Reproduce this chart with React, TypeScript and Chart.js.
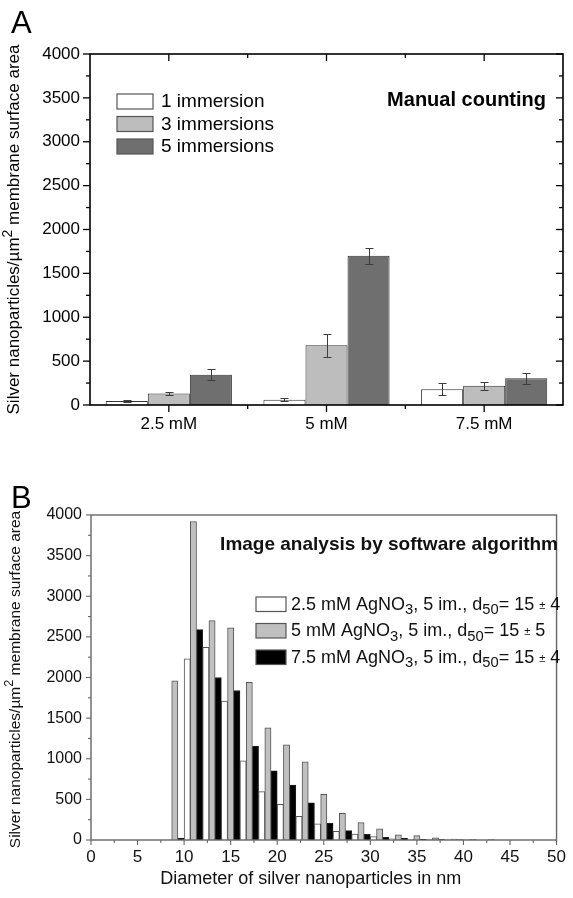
import React, { useEffect, useRef } from "react";
import { Chart, registerables } from "chart.js";

Chart.register(...registerables);

const FONT = '"Liberation Sans", Arial, Helvetica, sans-serif';

// ---------------- Panel A : manual counting ----------------
const concentrationLabels = ["2.5 mM", "5 mM", "7.5 mM"];
const immersionNames = ["1 immersion", "3 immersions", "5 immersions"];
const oneImmersion = [45, 60, 180];
const threeImmersions = [130, 680, 220];
const fiveImmersions = [345, 1700, 305];
const oneImmersionErr = [10, 20, 70];
const threeImmersionsErr = [20, 130, 45];
const fiveImmersionsErr = [65, 90, 60];
const yTicksA = [0, 500, 1000, 1500, 2000, 2500, 3000, 3500, 4000];
const panelATitle = "Manual counting";
const panelALetter = "A";

// ---------------- Panel B : image analysis ----------------
const diameterBinCenters = [1, 3, 5, 7, 9, 11, 13, 15, 17, 19, 21, 23, 25, 27, 29, 31, 33, 35, 37, 39, 41, 43, 45, 47, 49];
const agNO3_2_5mM = [0, 0, 0, 0, 0, 2230, 2370, 1710, 975, 595, 440, 290, 200, 106, 74, 41, 15, 8, 5, 3, 2, 0, 0, 0, 0];
const agNO3_5mM = [0, 0, 0, 0, 1960, 3920, 2700, 2610, 1940, 1380, 1170, 962, 561, 328, 213, 139, 65, 53, 28, 12, 8, 5, 0, 0, 0];
const agNO3_7_5mM = [0, 0, 0, 0, 25, 2590, 2000, 1840, 1155, 851, 676, 459, 205, 115, 70, 33, 20, 8, 5, 2, 0, 0, 0, 0, 0];
const seriesNamesB = [
  "2.5 mM AgNO_{3}, 5 im., d_{50}= 15 ~{±} 4",
  "5 mM AgNO_{3}, 5 im., d_{50}= 15 ~{±} 5",
  "7.5 mM AgNO_{3}, 5 im., d_{50}= 15 ~{±} 4",
];
const xTicksB = [0, 5, 10, 15, 20, 25, 30, 35, 40, 45, 50];
const yTicksB = [0, 500, 1000, 1500, 2000, 2500, 3000, 3500, 4000];
const panelBTitle = "Image analysis by software algorithm";
const panelBLetter = "B";
const xTitleB = "Diameter of silver nanoparticles in nm";
const yTitle = "Silver nanoparticles/µm^{2} membrane surface area";

// ---------------- rich text helpers ----------------
type Seg = { text: string; kind: "normal" | "sub" | "sup" | "small" };
function parseRich(s: string): Seg[] {
  const out: Seg[] = [];
  const re = /(_|\^|~)\{([^}]*)\}/g;
  let last = 0;
  let m: RegExpExecArray | null;
  while ((m = re.exec(s))) {
    if (m.index > last) out.push({ text: s.slice(last, m.index), kind: "normal" });
    out.push({ text: m[2], kind: m[1] === "_" ? "sub" : m[1] === "^" ? "sup" : "small" });
    last = m.index + m[0].length;
  }
  if (last < s.length) out.push({ text: s.slice(last), kind: "normal" });
  return out;
}
function segSize(kind: Seg["kind"], size: number) {
  if (kind === "normal") return size;
  if (kind === "small") return size * 0.62;
  return size * 0.82;
}
function segDy(kind: Seg["kind"], size: number) {
  if (kind === "sub") return size * 0.27;
  if (kind === "sup") return -size * 0.42;
  if (kind === "small") return -size * 0.05;
  return 0;
}
function richWidth(ctx: CanvasRenderingContext2D, segs: Seg[], size: number, weight: string) {
  let w = 0;
  for (const sg of segs) {
    ctx.font = `${weight} ${segSize(sg.kind, size)}px ${FONT}`;
    w += ctx.measureText(sg.text).width;
  }
  return w;
}
function drawRich(ctx: CanvasRenderingContext2D, s: string, x: number, y: number, size: number, weight: string, color: string, align: "left" | "right" | "center" = "left") {
  const segs = parseRich(s);
  const w = richWidth(ctx, segs, size, weight);
  let cx = align === "left" ? x : align === "right" ? x - w : x - w / 2;
  ctx.textAlign = "left";
  ctx.textBaseline = "alphabetic";
  ctx.fillStyle = color;
  for (const sg of segs) {
    ctx.font = `${weight} ${segSize(sg.kind, size)}px ${FONT}`;
    ctx.fillText(sg.text, cx, y + segDy(sg.kind, size));
    cx += ctx.measureText(sg.text).width;
  }
}
function drawVertical(ctx: CanvasRenderingContext2D, s: string, cx: number, cy: number, size: number, color: string) {
  ctx.save();
  ctx.translate(cx, cy);
  ctx.rotate(-Math.PI / 2);
  drawRich(ctx, s, 0, size * 0.36, size, "normal", color, "center");
  ctx.restore();
}
function line(ctx: CanvasRenderingContext2D, x1: number, y1: number, x2: number, y2: number) {
  ctx.beginPath();
  ctx.moveTo(x1, y1);
  ctx.lineTo(x2, y2);
  ctx.stroke();
}

// ---------------- Panel A plugin ----------------
const errorsA = [oneImmersionErr, threeImmersionsErr, fiveImmersionsErr];
const panelAPlugin = {
  id: "panelADecor",
  afterDatasetsDraw(chart: any) {
    const ctx: CanvasRenderingContext2D = chart.ctx;
    const ys = chart.scales.y;
    ctx.save();
    ctx.strokeStyle = "#3c3c3c";
    ctx.lineWidth = 1;
    chart.data.datasets.forEach((ds: any, i: number) => {
      const meta = chart.getDatasetMeta(i);
      meta.data.forEach((el: any, j: number) => {
        const v = ds.data[j];
        const e = errorsA[i][j];
        const x = Math.round(el.x) + 0.5;
        const yt = Math.round(ys.getPixelForValue(v + e)) + 0.5;
        const yb = Math.round(ys.getPixelForValue(v - e)) + 0.5;
        line(ctx, x, yt, x, yb);
        line(ctx, x - 4, yt, x + 4, yt);
        line(ctx, x - 4, yb, x + 4, yb);
      });
    });
    ctx.restore();
  },
  afterDraw(chart: any) {
    const ctx: CanvasRenderingContext2D = chart.ctx;
    const { left, right, top, bottom } = chart.chartArea;
    const xs = chart.scales.x;
    const ys = chart.scales.y;
    ctx.save();
    ctx.strokeStyle = "#000";
    ctx.lineWidth = 1.6;
    ctx.strokeRect(left, top, right - left, bottom - top);
    ctx.lineWidth = 1.3;
    for (let v = 0; v <= 4000; v += 250) {
      const y = ys.getPixelForValue(v);
      const len = v % 500 === 0 ? 7 : 4;
      line(ctx, left - len, y, left, y);
      line(ctx, right - len, y, right, y);
    }
    const n = concentrationLabels.length;
    for (let i = 0; i < n; i++) {
      const x = xs.getPixelForValue(i);
      line(ctx, x, top, x, top + 7);
      line(ctx, x, bottom, x, bottom + 7);
      if (i < n - 1) {
        const xm = (x + xs.getPixelForValue(i + 1)) / 2;
        line(ctx, xm, top, xm, top + 4);
        line(ctx, xm, bottom, xm, bottom + 4);
      }
    }
    // legend
    chart.data.datasets.forEach((ds: any, i: number) => {
      const by = 94 + i * 22.5;
      ctx.fillStyle = ds.backgroundColor;
      ctx.fillRect(117, by, 36, 15);
      ctx.strokeStyle = "#555";
      ctx.lineWidth = 1.2;
      ctx.strokeRect(117, by, 36, 15);
      drawRich(ctx, ds.label, 161, by + 13, 19, "normal", "#000");
    });
    drawRich(ctx, panelATitle, 546, 106, 20, "bold", "#000", "right");
    drawRich(ctx, panelALetter, 11, 33, 31, "normal", "#000");
    drawVertical(ctx, yTitle, 13, (top + bottom) / 2, 17, "#000");
    ctx.restore();
  },
};

// ---------------- Panel B plugin ----------------
const panelBPlugin = {
  id: "panelBDecor",
  afterDraw(chart: any) {
    const ctx: CanvasRenderingContext2D = chart.ctx;
    const { left, right, top, bottom } = chart.chartArea;
    const xs = chart.scales.x;
    const ys = chart.scales.y;
    ctx.save();
    ctx.strokeStyle = "#666";
    ctx.lineWidth = 1.4;
    ctx.strokeRect(left, top, right - left, bottom - top);
    ctx.lineWidth = 1.1;
    for (let v = 0; v <= 4000; v += 250) {
      const y = ys.getPixelForValue(v);
      const len = v % 500 === 0 ? 5 : 3;
      line(ctx, left - len, y, left, y);
    }
    for (let v = 0; v <= 50; v += 2.5) {
      const x = xs.getPixelForValue(v);
      const len = v % 5 === 0 ? 5 : 3;
      line(ctx, x, bottom, x, bottom + len);
    }
    chart.data.datasets.forEach((ds: any, i: number) => {
      const by = 147 + i * 26.5;
      ctx.fillStyle = ds.backgroundColor;
      ctx.fillRect(256, by, 30, 14.5);
      ctx.strokeStyle = "#555";
      ctx.lineWidth = 1.2;
      ctx.strokeRect(256, by, 30, 14.5);
      drawRich(ctx, ds.label, 291, by + 12.5, 18, "normal", "#111");
    });
    drawRich(ctx, panelBTitle, 558, 100, 19, "bold", "#111", "right");
    drawRich(ctx, panelBLetter, 11, 58, 31, "normal", "#000");
    drawRich(ctx, xTitleB, (left + right) / 2 - 13, 434, 18, "normal", "#111", "center");
    drawVertical(ctx, yTitle, 14, (top + bottom) / 2 + 2, 15.5, "#111");
    ctx.restore();
  },
};

function ChartA() {
  const ref = useRef<HTMLCanvasElement>(null);
  useEffect(() => {
    const chart = new Chart(ref.current as HTMLCanvasElement, {
      type: "bar",
      data: {
        labels: concentrationLabels,
        datasets: [
          { label: immersionNames[0], data: oneImmersion, backgroundColor: "#ffffff", borderColor: "#333", borderWidth: 1 },
          { label: immersionNames[1], data: threeImmersions, backgroundColor: "#bdbdbd", borderColor: "#333", borderWidth: 1 },
          { label: immersionNames[2], data: fiveImmersions, backgroundColor: "#6f6f6f", borderColor: "#333", borderWidth: 1 },
        ],
      },
      options: {
        animation: false,
        responsive: false,
        maintainAspectRatio: false,
        layout: { padding: { left: 0, right: 10, top: 54, bottom: 0 } },
        plugins: { legend: { display: false }, tooltip: { enabled: false } },
        datasets: { bar: { categoryPercentage: 0.8, barPercentage: 1 } } as any,
        scales: {
          x: {
            grid: { display: false, drawTicks: false },
            border: { display: false },
            ticks: { color: "#000", font: { family: FONT, size: 17 }, padding: 9, maxRotation: 0 },
            afterFit: (s: any) => { s.height = 45; },
          },
          y: {
            min: 0,
            max: 4000,
            grid: { display: false, drawTicks: false },
            border: { display: false },
            afterBuildTicks: (s: any) => { s.ticks = yTicksA.map((v) => ({ value: v })); },
            ticks: { color: "#000", font: { family: FONT, size: 17 }, padding: 10, callback: (v: any) => String(v) },
            afterFit: (s: any) => { s.width = 90; },
          },
        },
      } as any,
      plugins: [panelAPlugin],
    });
    return () => chart.destroy();
  }, []);
  return <canvas ref={ref} width={573} height={450} style={{ display: "block", width: 573, height: 450 }} />;
}

function ChartB() {
  const ref = useRef<HTMLCanvasElement>(null);
  useEffect(() => {
    const mk = (arr: number[]) => diameterBinCenters.map((x, i) => ({ x, y: arr[i] }));
    const chart = new Chart(ref.current as HTMLCanvasElement, {
      type: "bar",
      data: {
        datasets: [
          { label: seriesNamesB[0], data: mk(agNO3_2_5mM), backgroundColor: "#ffffff", borderColor: "#555", borderWidth: 1 },
          { label: seriesNamesB[1], data: mk(agNO3_5mM), backgroundColor: "#c0c0c0", borderColor: "#555", borderWidth: 1 },
          { label: seriesNamesB[2], data: mk(agNO3_7_5mM), backgroundColor: "#000000", borderColor: "#222", borderWidth: 1 },
        ],
      },
      options: {
        animation: false,
        responsive: false,
        maintainAspectRatio: false,
        layout: { padding: { left: 0, right: 10, top: 65, bottom: 0 } },
        plugins: { legend: { display: false }, tooltip: { enabled: false } },
        datasets: { bar: { categoryPercentage: 1, barPercentage: 1 } } as any,
        scales: {
          x: {
            type: "linear",
            min: 0,
            max: 50,
            offset: false,
            grid: { display: false, drawTicks: false, offset: false },
            border: { display: false },
            afterBuildTicks: (s: any) => { s.ticks = xTicksB.map((v) => ({ value: v })); },
            ticks: { color: "#111", font: { family: FONT, size: 17 }, padding: 7, maxRotation: 0, callback: (v: any) => String(v) },
            afterFit: (s: any) => { s.height = 58; },
          },
          y: {
            min: 0,
            max: 4000,
            grid: { display: false, drawTicks: false },
            border: { display: false },
            afterBuildTicks: (s: any) => { s.ticks = yTicksB.map((v) => ({ value: v })); },
            ticks: { color: "#111", font: { family: FONT, size: 16 }, padding: 9, callback: (v: any) => String(v) },
            afterFit: (s: any) => { s.width = 91; },
          },
        },
      } as any,
      plugins: [panelBPlugin],
    });
    return () => chart.destroy();
  }, []);
  return <canvas ref={ref} width={573} height={448} style={{ display: "block", width: 573, height: 448 }} />;
}

export default function App() {
  return (
    <div style={{ position: "absolute", left: 0, top: 0, width: 573, height: 898, background: "#fff" }}>
      <ChartA />
      <ChartB />
    </div>
  );
}
